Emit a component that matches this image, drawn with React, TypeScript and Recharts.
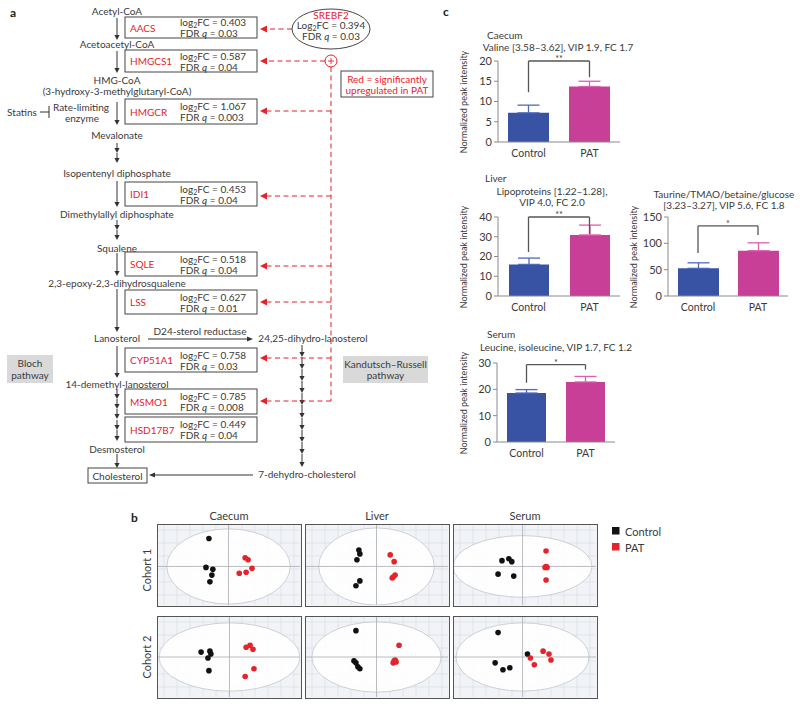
import React from 'react';
import {
  BarChart, Bar, XAxis, YAxis, ErrorBar, ReferenceLine, ScatterChart, Scatter,
  CartesianGrid, ReferenceArea,
} from 'recharts';

const FONT = 'Lato, "Open Sans", sans-serif';
const TXT = '#3a3a3a';
const RED = '#e4232b';
const BLUE = '#3953a4';
const BLUE_ERR = '#5068bd';
const PINK = '#c83f97';
const PINK_ERR = '#dc5fb0';

// ---------- panel c data ----------
const groups = ['Control', 'PAT'];
const caecumValine = [7.2, 13.7];
const caecumValineSem = [1.9, 1.3];
const caecumTicks = [0, 5, 10, 15, 20];
const caecumBracket = [20, 12.3, 16];

const liverLipo = [16.0, 30.9];
const liverLipoSem = [3.2, 5.0];
const liverLipoTicks = [0, 10, 20, 30, 40];
const liverLipoBracket = [40, 22.3, 31.4];

const liverTaurine = [52.5, 86];
const liverTaurineSem = [10.5, 15];
const liverTaurineTicks = [0, 50, 100, 150];
const liverTaurineBracket = [133, 81.6, 115.7];

const serumLeu = [18.6, 22.8];
const serumLeuSem = [1.3, 2.1];
const serumLeuTicks = [0, 10, 20, 30];
const serumLeuBracket = [29.4, 22.5, 27.5];

const yLabel = 'Normalized peak intensity';

// ---------- panel b data (PCA scores) ----------
const caecumC1Control = [{ x: -20, y: 29 }, { x: -23, y: -1 }, { x: -16, y: -3 }, { x: -17, y: -9 }, { x: -19, y: -16 }];
const caecumC1Pat = [{ x: 17, y: 9 }, { x: 20, y: 7 }, { x: 24, y: -2 }, { x: 18, y: -6 }, { x: 11, y: -7 }];
const caecumC2Control = [{ x: -29, y: 5 }, { x: -20, y: 6 }, { x: -19, y: 3 }, { x: -22, y: -1 }, { x: -21, y: -14 }];
const caecumC2Pat = [{ x: 17, y: 10 }, { x: 21, y: 12 }, { x: 24, y: 8 }, { x: 25, y: -12 }, { x: 16, y: -20 }];
const liverC1Control = [{ x: -18, y: 17 }, { x: -17, y: 13 }, { x: -20, y: 7 }, { x: -17, y: -15 }, { x: -21, y: -20 }];
const liverC1Pat = [{ x: 14, y: 12 }, { x: 18, y: 5 }, { x: 19, y: -9 }, { x: 16, y: -12 }, { x: 17, y: -11 }];
const liverC2Control = [{ x: -21, y: 27 }, { x: -23, y: -4 }, { x: -21, y: -6 }, { x: -19, y: -10 }, { x: -17, y: -12 }];
const liverC2Pat = [{ x: 23, y: 12 }, { x: 19, y: -3 }, { x: 17, y: -6 }, { x: 20, y: -5 }, { x: 18, y: -4 }];
const serumC1Control = [{ x: -21, y: 6 }, { x: -14, y: 8 }, { x: -11, y: 5 }, { x: -25, y: -8 }, { x: -9, y: -10 }];
const serumC1Pat = [{ x: 24, y: 16 }, { x: 23, y: -1 }, { x: 25, y: -1 }, { x: 24, y: -14 }, { x: 24, y: 0 }];
const serumC2Control = [{ x: -25, y: 25 }, { x: -28, y: -6 }, { x: -20, y: -13 }, { x: -13, y: -11 }, { x: 5, y: 3 }];
const serumC2Pat = [{ x: 8, y: -1 }, { x: 12, y: -8 }, { x: 21, y: 6 }, { x: 27, y: 3 }, { x: 29, y: -3 }];

const tissues = ['Caecum', 'Liver', 'Serum'];
const cohorts = ['Cohort 1', 'Cohort 2'];
const legendLabels = ['Control', 'PAT'];

// ---------- panel a data ----------
const genes = ['AACS', 'HMGCS1', 'HMGCR', 'IDI1', 'SQLE', 'LSS', 'CYP51A1', 'MSMO1', 'HSD17B7'];
const geneLog2FC = ['0.403', '0.587', '1.067', '0.453', '0.518', '0.627', '0.758', '0.785', '0.449'];
const geneFDR = ['0.03', '0.04', '0.003', '0.04', '0.04', '0.01', '0.03', '0.008', '0.04'];
const srebf2 = { log2fc: '0.394', fdr: '0.03' };

const geneBoxY = [[17, 38], [50, 72], [99, 124], [182, 206], [252, 276], [290, 314], [348, 372], [389, 414], [417, 442]];
const redArrowY = [29, 61, 111, 196, 266, 302, 358, 401];

function buildTable(means: number[], sem: number[]) {
  return groups.map((g, i) => ({
    group: g,
    control: i === 0 ? means[i] : null,
    pat: i === 1 ? means[i] : null,
    controlErr: i === 0 ? [0, sem[i]] : null,
    patErr: i === 1 ? [0, sem[i]] : null,
  }));
}

function StarLabel(stars: string) {
  return (props: any) => {
    const vb = props.viewBox || {};
    return (
      <text x={vb.x + vb.width / 2} y={vb.y + 1} textAnchor="middle" fontSize={9} fill={TXT} fontFamily={FONT}>
        {stars}
      </text>
    );
  };
}

function BarPanel(props: any) {
  const { left, top, width, height, data, ticks, bracket, stars, barSize } = props;
  const [bt, bl, br] = bracket;
  return (
    <div style={{ position: 'absolute', left, top, width, height }}>
      <BarChart width={width} height={height} data={data} margin={{ top: 14, right: 2, bottom: 0, left: 0 }} barCategoryGap="16%">
        <XAxis dataKey="group" tickLine={false} axisLine={{ stroke: '#8a8a8a' }} height={24}
          tick={{ fontSize: 10.5, fill: TXT, fontFamily: FONT }} />
        <YAxis width={43} domain={[0, ticks[ticks.length - 1]]} ticks={ticks} interval={0}
          tickSize={4} tickLine={{ stroke: '#8a8a8a' }} axisLine={{ stroke: '#8a8a8a' }}
          tick={{ fontSize: 11, fill: TXT, fontFamily: FONT }} />
        <Bar dataKey="control" stackId="s" fill={BLUE} barSize={barSize} isAnimationActive={false}>
          <ErrorBar dataKey="controlErr" width={11} stroke={BLUE_ERR} strokeWidth={1.3} direction="y" />
        </Bar>
        <Bar dataKey="pat" stackId="s" fill={PINK} barSize={barSize} isAnimationActive={false}>
          <ErrorBar dataKey="patErr" width={11} stroke={PINK_ERR} strokeWidth={1.3} direction="y" />
        </Bar>
        <ReferenceLine segment={[{ x: 'Control', y: bt }, { x: 'PAT', y: bt }]} stroke="#555" strokeWidth={1.3}
          ifOverflow="visible" label={StarLabel(stars)} />
        <ReferenceLine segment={[{ x: 'Control', y: bt }, { x: 'Control', y: bl }]} stroke="#555" strokeWidth={1.3} ifOverflow="visible" />
        <ReferenceLine segment={[{ x: 'PAT', y: bt }, { x: 'PAT', y: br }]} stroke="#555" strokeWidth={1.3} ifOverflow="visible" />
      </BarChart>
    </div>
  );
}

const GRID_STEP = 13;
function gridV(p: any) {
  const o = p.offset || { left: 0, width: p.width };
  const out: number[] = [];
  for (let x = o.left + 6; x < o.left + o.width; x += GRID_STEP) out.push(x);
  return out;
}
function gridH(p: any) {
  const o = p.offset || { top: 0, height: p.height };
  const out: number[] = [];
  for (let y = o.top + 5; y < o.top + o.height; y += GRID_STEP) out.push(y);
  return out;
}

function PcaPanel(props: any) {
  const { left, top, xDom, yDom, rx, ry, control, pat } = props;
  return (
    <div style={{ position: 'absolute', left, top, width: 145, height: 83, border: '1.5px solid #555', boxSizing: 'border-box', background: '#f1f3f6' }}>
      <ScatterChart width={142} height={80} margin={{ top: 0, right: 0, bottom: 0, left: 0 }}>
        <XAxis type="number" dataKey="x" domain={xDom} hide allowDataOverflow />
        <YAxis type="number" dataKey="y" domain={yDom} hide allowDataOverflow />
        <CartesianGrid stroke="#d9dee5" strokeWidth={0.7} fill="#f1f3f6"
          verticalCoordinatesGenerator={gridV} horizontalCoordinatesGenerator={gridH} />
        <ReferenceArea x1={-rx} x2={rx} y1={-ry} y2={ry} ifOverflow="visible"
          shape={(p: any) => (
            <ellipse cx={p.x + p.width / 2} cy={p.y + p.height / 2} rx={Math.abs(p.width) / 2} ry={Math.abs(p.height) / 2}
              fill="#ffffff" fillOpacity={0.9} stroke="#cdd1d6" strokeWidth={1} />
          )} />
        <ReferenceLine x={0} stroke="#a9adb2" strokeWidth={0.8} />
        <ReferenceLine y={0} stroke="#a9adb2" strokeWidth={0.8} />
        <Scatter data={control} isAnimationActive={false}
          shape={(p: any) => <circle cx={p.cx} cy={p.cy} r={2.8} fill="#111" />} />
        <Scatter data={pat} isAnimationActive={false}
          shape={(p: any) => <circle cx={p.cx} cy={p.cy} r={2.8} fill={RED} />} />
      </ScatterChart>
    </div>
  );
}

function T(props: any) {
  const { x, y, children, anchor = 'middle', size = 10, fill = TXT, weight = 'normal', ...rest } = props;
  return (
    <text x={x} y={y} textAnchor={anchor} dominantBaseline="central" fontSize={size} fill={fill}
      fontWeight={weight} fontFamily={FONT} {...rest}>
      {children}
    </text>
  );
}

function VArrow({ x, y1, y2 }: any) {
  return (
    <g>
      <line x1={x} y1={y1} x2={x} y2={y2 - 3} stroke="#333" strokeWidth={1} />
      <polygon points={`${x - 2.6},${y2 - 5} ${x + 2.6},${y2 - 5} ${x},${y2}`} fill="#333" />
    </g>
  );
}

function Log2(props: any) {
  const { x, y, label = 'log', v, size = 10, anchor = 'start' } = props;
  return (
    <text x={x} y={y} textAnchor={anchor} dominantBaseline="central" fontSize={size} fill={TXT} fontFamily={FONT}>
      {label}<tspan fontSize={size * 0.7} dy={3}>2</tspan><tspan dy={-3}>FC = {v}</tspan>
    </text>
  );
}

function Fdr(props: any) {
  const { x, y, v, size = 10, anchor = 'start' } = props;
  return (
    <text x={x} y={y} textAnchor={anchor} dominantBaseline="central" fontSize={size} fill={TXT} fontFamily={FONT}>
      FDR <tspan fontStyle="italic">q</tspan> = {v}
    </text>
  );
}

const mainSmallArrows = [[143, 153], [153, 163], [220, 230], [230, 240], [389, 399], [399, 409], [409, 419], [420, 430], [430, 441]];
const kandutschArrows = [345, 357, 369, 381, 393, 405, 418, 430, 442, 454, 467];

function Pathway() {
  const X = 117;
  const VL = 331;
  return (
    <g>
      <T x={10} y={12} size={12} weight="bold" anchor="start" fill="#222">a</T>
      <T x={X} y={11}>Acetyl-CoA</T>
      <VArrow x={X} y1={18} y2={40} />
      <T x={X} y={44}>Acetoacetyl-CoA</T>
      <VArrow x={X} y1={51} y2={73} />
      <T x={X} y={80}>HMG-CoA</T>
      <T x={X} y={91}>(3-hydroxy-3-methylglutaryl-CoA)</T>
      <VArrow x={X} y1={102} y2={125} />
      <T x={22} y={112}>Statins</T>
      <line x1={40} y1={112} x2={49} y2={112} stroke="#333" />
      <line x1={49} y1={106} x2={49} y2={118} stroke="#333" />
      <T x={81} y={107}>Rate-limiting</T>
      <T x={82} y={118}>enzyme</T>
      <T x={X} y={135}>Mevalonate</T>
      <T x={X} y={173}>Isopentenyl diphosphate</T>
      <VArrow x={X} y1={181} y2={207} />
      <T x={X} y={214}>Dimethylallyl diphosphate</T>
      <T x={X} y={248}>Squalene</T>
      <VArrow x={X} y1={253} y2={276} />
      <T x={X} y={283}>2,3-epoxy-2,3-dihydrosqualene</T>
      <VArrow x={X} y1={289} y2={332} />
      <T x={X} y={338}>Lanosterol</T>
      <line x1={148} y1={339} x2={248} y2={339} stroke="#333" />
      <polygon points={`${253},339 ${247},336.4 ${247},341.6`} fill="#333" />
      <T x={200} y={331}>D24-sterol reductase</T>
      <T x={313} y={338}>24,25-dihydro-lanosterol</T>
      <VArrow x={X} y1={346} y2={378} />
      <T x={X} y={384}>14-demethyl-lanosterol</T>
      {mainSmallArrows.map(([a, b], i) => <VArrow key={i} x={X} y1={a} y2={b} />)}
      <T x={X} y={449}>Desmosterol</T>
      <VArrow x={X} y1={454} y2={468} />
      <rect x={88} y={468} width={59} height={15} fill="none" stroke="#444" strokeWidth={1} />
      <T x={117.5} y={475.5}>Cholesterol</T>
      <line x1={253} y1={475} x2={154} y2={475} stroke="#333" />
      <polygon points={`${149},475 ${155},472.4 ${155},477.6`} fill="#333" />
      <T x={307} y={474}>7-dehydro-cholesterol</T>
      {kandutschArrows.slice(0, -1).map((a, i) => (
        <VArrow key={i} x={302} y1={a} y2={kandutschArrows[i + 1]} />
      ))}
      <rect x={7} y={355} width={46} height={28} fill="#d9d9d9" />
      <T x={30} y={363}>Bloch</T>
      <T x={30} y={375}>pathway</T>
      <rect x={343} y={356} width={85} height={27} fill="#d9d9d9" />
      <T x={385.5} y={363.5}>Kandutsch–Russell</T>
      <T x={385.5} y={375}>pathway</T>
      {genes.map((g, i) => {
        const [y1, y2] = geneBoxY[i];
        const cy = (y1 + y2) / 2;
        return (
          <g key={g}>
            <rect x={125} y={y1} width={132} height={y2 - y1} fill="#fff" stroke="#444" strokeWidth={1} />
            <T x={130} y={cy} anchor="start" fill={RED}>{g}</T>
            <Log2 x={180} y={cy - 5.5} v={geneLog2FC[i]} />
            <Fdr x={180} y={cy + 5.5} v={geneFDR[i]} />
          </g>
        );
      })}
      <ellipse cx={VL} cy={29} rx={39} ry={20} fill="#fff" stroke="#444" strokeWidth={1} />
      <T x={VL} y={15} fill={RED}>SREBF2</T>
      <Log2 x={VL} y={25} label="Log" v={srebf2.log2fc} anchor="middle" />
      <Fdr x={VL} y={36} v={srebf2.fdr} anchor="middle" />
      <circle cx={VL} cy={61} r={6} fill="#fff" stroke={RED} strokeWidth={1} />
      <line x1={VL - 3} y1={61} x2={VL + 3} y2={61} stroke={RED} strokeWidth={0.9} />
      <line x1={VL} y1={58} x2={VL} y2={64} stroke={RED} strokeWidth={0.9} />
      <line x1={VL} y1={67} x2={VL} y2={401} stroke={RED} strokeWidth={1} strokeDasharray="5,3.5" />
      {redArrowY.map((y, i) => {
        const x1 = i === 0 ? 292 : i === 1 ? VL - 6 : VL;
        return (
          <g key={i}>
            <line x1={x1} y1={y} x2={266} y2={y} stroke={RED} strokeWidth={1} strokeDasharray="5,3.5" />
            <polygon points={`${260},${y} ${267},${y - 3.5} ${267},${y + 3.5}`} fill={RED} />
          </g>
        );
      })}
      <rect x={341} y={71} width={92} height={26} fill="#fff" stroke="#444" strokeWidth={1} />
      <T x={387} y={79} fill={RED}>Red = significantly</T>
      <T x={387} y={90} fill={RED}>upregulated in PAT</T>
    </g>
  );
}

function YLab({ x, y }: any) {
  return <T x={x} y={y} size={9} transform={`rotate(-90, ${x}, ${y})`}>{yLabel}</T>;
}

function Overlay() {
  return (
    <svg width={800} height={706} style={{ position: 'absolute', left: 0, top: 0, pointerEvents: 'none' }}>
      <Pathway />
      <T x={443} y={11} size={12} weight="bold" anchor="start" fill="#222">c</T>
      <T x={487} y={35} anchor="start">Caecum</T>
      <T x={558} y={47}>Valine [3.58–3.62], VIP 1.9, FC 1.7</T>
      <T x={485} y={178} anchor="start">Liver</T>
      <T x={552} y={191}>Lipoproteins [1.22–1.28],</T>
      <T x={552} y={202}>VIP 4.0, FC 2.0</T>
      <T x={724} y={194}>Taurine/TMAO/betaine/glucose</T>
      <T x={724} y={205}>[3.23–3.27], VIP 5.6, FC 1.8</T>
      <T x={487} y={334} anchor="start">Serum</T>
      <T x={556} y={347}>Leucine, isoleucine, VIP 1.7, FC 1.2</T>
      <YLab x={463} y={102} />
      <YLab x={463} y={257} />
      <YLab x={633} y={257} />
      <YLab x={463} y={403} />
      <T x={131} y={517} size={12} weight="bold" anchor="start" fill="#222">b</T>
      <T x={229} y={515} size={11}>{tissues[0]}</T>
      <T x={377} y={515} size={11}>{tissues[1]}</T>
      <T x={525} y={515} size={11}>{tissues[2]}</T>
      <T x={146} y={570} size={11} transform="rotate(-90, 146, 570)">{cohorts[0]}</T>
      <T x={146} y={657} size={11} transform="rotate(-90, 146, 657)">{cohorts[1]}</T>
      <rect x={612} y={527} width={7.5} height={7.5} fill="#111" />
      <T x={625} y={531} size={11} anchor="start">{legendLabels[0]}</T>
      <rect x={612} y={543} width={7.5} height={7.5} fill={RED} />
      <T x={625} y={547} size={11} anchor="start">{legendLabels[1]}</T>
    </svg>
  );
}

export default function App() {
  return (
    <div style={{ position: 'absolute', left: 0, top: 0, width: 800, height: 706, background: '#fff', fontFamily: FONT, overflow: 'hidden' }}>
      <BarPanel left={455} top={47} width={167} height={119} data={buildTable(caecumValine, caecumValineSem)}
        ticks={caecumTicks} bracket={caecumBracket} stars="**" barSize={41} />
      <BarPanel left={455} top={203} width={167} height={117} data={buildTable(liverLipo, liverLipoSem)}
        ticks={liverLipoTicks} bracket={liverLipoBracket} stars="**" barSize={40} />
      <BarPanel left={625} top={203} width={165} height={117} data={buildTable(liverTaurine, liverTaurineSem)}
        ticks={liverTaurineTicks} bracket={liverTaurineBracket} stars="*" barSize={41} />
      <BarPanel left={454} top={349} width={163} height={117} data={buildTable(serumLeu, serumLeuSem)}
        ticks={serumLeuTicks} bracket={serumLeuBracket} stars="*" barSize={39} />

      <PcaPanel left={157} top={524} xDom={[-72, 73]} yDom={[-40, 43]} rx={63} ry={39} control={caecumC1Control} pat={caecumC1Pat} />
      <PcaPanel left={305} top={524} xDom={[-72, 73]} yDom={[-40, 43]} rx={59} ry={40} control={liverC1Control} pat={liverC1Pat} />
      <PcaPanel left={453} top={524} xDom={[-70, 75]} yDom={[-40, 43]} rx={71} ry={32} control={serumC1Control} pat={serumC1Pat} />
      <PcaPanel left={157} top={616} xDom={[-73, 72]} yDom={[-41, 41]} rx={72} ry={35} control={caecumC2Control} pat={caecumC2Pat} />
      <PcaPanel left={305} top={616} xDom={[-72, 73]} yDom={[-41, 41]} rx={66} ry={36} control={liverC2Control} pat={liverC2Pat} />
      <PcaPanel left={453} top={616} xDom={[-70, 75]} yDom={[-41, 41]} rx={68} ry={35} control={serumC2Control} pat={serumC2Pat} />

      <Overlay />
    </div>
  );
}
